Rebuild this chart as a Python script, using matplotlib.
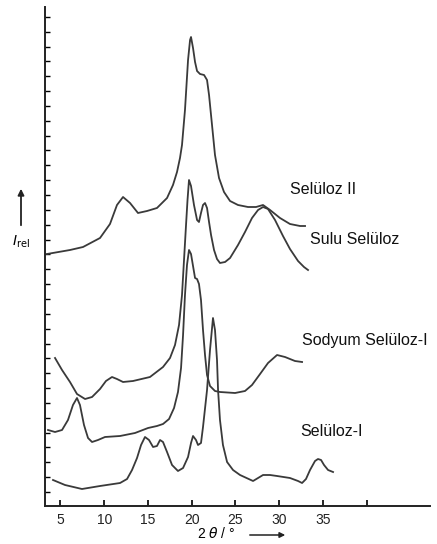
import numpy as np
import matplotlib
matplotlib.use('Agg')
import matplotlib.pyplot as plt

plt.rcParams['font.family'] = ['Liberation Sans', 'DejaVu Sans']

# 2theta (degrees) and relative intensity for each pattern
sel2_x = [3.46, 6.09, 7.58, 9.52, 10.66, 11.46, 12.15, 12.95, 13.86, 14.89, 16.03, 17.18,
          17.86, 18.32, 18.66, 18.89, 19.23, 19.58, 19.81, 19.92, 20.15, 20.38, 20.61, 20.95,
          21.41, 21.75, 21.98, 22.32, 22.66, 23.12, 23.69, 24.38, 25.29, 26.43, 27.35, 28.15,
          28.95, 30.09, 31.23, 32.38, 32.95]
sel2_y = [25.2, 25.6, 25.9, 26.8, 28.2, 30.1, 30.9, 30.3, 29.3, 29.5, 29.8, 30.8,
          32.1, 33.4, 34.8, 36.1, 39.6, 44.6, 46.6, 46.9, 45.8, 44.4, 43.5, 43.2,
          43.1, 42.6, 41.1, 38.1, 35.1, 32.8, 31.4, 30.5, 30.1, 29.9, 29.9, 30.1,
          29.6, 28.8, 28.2, 28.0, 28.0]

sulu_x = [4.38, 5.18, 6.09, 6.89, 7.81, 8.61, 9.52, 10.20, 10.89, 11.46, 12.15, 13.29,
          15.23, 16.72, 17.52, 18.09, 18.55, 18.89, 19.12, 19.35, 19.52, 19.69, 19.92, 20.26,
          20.61, 20.83, 21.06, 21.29, 21.52, 21.75, 21.98, 22.21, 22.55, 22.89, 23.23, 23.81,
          24.38, 25.29, 26.09, 26.89, 27.58, 28.15, 28.72, 29.52, 30.43, 31.23, 32.15, 32.83,
          33.29]
sulu_y = [14.8, 13.6, 12.4, 11.2, 10.7, 10.9, 11.7, 12.5, 12.9, 12.7, 12.4, 12.5,
          12.9, 13.9, 14.8, 16.1, 18.1, 21.1, 24.6, 28.1, 30.6, 32.6, 32.0, 30.1,
          28.6, 28.4, 29.3, 30.1, 30.3, 29.8, 28.4, 27.1, 25.6, 24.7, 24.3, 24.4,
          24.8, 26.1, 27.4, 28.8, 29.6, 29.9, 29.7, 28.6, 27.0, 25.7, 24.5, 23.9,
          23.6]

sod_x = [3.58, 4.38, 5.18, 5.86, 6.43, 6.89, 7.23, 7.69, 8.15, 8.61, 9.29, 10.09,
         11.81, 13.52, 15.01, 16.03, 16.72, 17.41, 17.98, 18.43, 18.78, 19.01, 19.23, 19.46,
         19.69, 19.92, 20.15, 20.38, 20.61, 20.83, 21.06, 21.29, 21.52, 21.75, 22.09, 22.66,
         23.23, 24.95, 26.09, 26.89, 27.81, 28.72, 29.75, 30.66, 31.80, 32.61]
sod_y = [7.6, 7.4, 7.6, 8.6, 10.1, 10.8, 10.1, 8.1, 6.8, 6.4, 6.6, 6.9,
         7.0, 7.3, 7.8, 8.0, 8.2, 8.7, 9.8, 11.4, 13.8, 17.1, 21.1, 24.1,
         25.6, 25.2, 24.0, 22.8, 22.7, 22.2, 20.6, 17.6, 15.1, 13.1, 12.0, 11.5,
         11.4, 11.3, 11.5, 12.1, 13.2, 14.3, 15.1, 14.9, 14.5, 14.4]

sel1_x = [4.15, 5.52, 7.46, 9.52, 11.81, 12.61, 13.18, 13.75, 14.21, 14.66, 15.12, 15.58,
          16.03, 16.38, 16.72, 17.18, 17.75, 18.43, 19.01, 19.58, 19.92, 20.15, 20.49, 20.72,
          21.06, 21.29, 21.75, 22.09, 22.43, 22.66, 22.89, 23.01, 23.23, 23.57, 24.04, 24.72,
          25.52, 27.01, 27.58, 28.15, 28.95, 29.75, 31.23, 32.15, 32.61, 33.06, 33.52, 34.09,
          34.43, 34.78, 35.12, 35.58, 36.15]
sel1_y = [2.6, 2.1, 1.7, 2.0, 2.3, 2.7, 3.6, 4.8, 6.1, 6.9, 6.6, 5.9,
          6.0, 6.6, 6.4, 5.4, 4.1, 3.5, 3.8, 4.9, 6.3, 7.0, 6.6, 6.1,
          6.3, 7.9, 11.6, 15.6, 18.8, 17.6, 14.6, 11.6, 8.6, 6.1, 4.4, 3.6,
          3.1, 2.5, 2.8, 3.1, 3.1, 3.0, 2.8, 2.5, 2.3, 2.7, 3.6, 4.5,
          4.7, 4.6, 4.1, 3.6, 3.4]

labels = ['Selüloz II', 'Sulu Selüloz', 'Sodyum Selüloz-I', 'Selüloz-I']
xticks = [5, 10, 15, 20, 25, 30, 35, 40]
xticklabels = ['5', '10', '15', '20', '25', '30', '35', '']

W, H = 437, 544
fig = plt.figure(figsize=(W / 100, H / 100), dpi=100)
ax = fig.add_axes([45 / W, 38 / H, 385 / W, 499 / H])

line_kw = dict(color='#3a3a3a', lw=1.3, solid_joinstyle='round')
for xs, ys in [(sel2_x, sel2_y), (sulu_x, sulu_y), (sod_x, sod_y), (sel1_x, sel1_y)]:
    ax.plot(xs, ys, **line_kw)

ax.set_xlim(3.234, 47.23)
ax.set_ylim(0, 49.9)
for s in ['top', 'right']:
    ax.spines[s].set_visible(False)
for s in ['left', 'bottom']:
    ax.spines[s].set_linewidth(1.4)
    ax.spines[s].set_color('#222222')

ax.set_xticks(xticks)
ax.set_xticklabels(xticklabels, fontsize=10, color='#222222')
ax.tick_params(axis='x', direction='in', length=4, width=1.2, pad=5)
ax.set_yticks(np.arange(1.4, 49.5, 1.485))
ax.set_yticklabels([])
ax.tick_params(axis='y', direction='in', length=3.5, width=1.0)

# curve labels (figure pixel positions)
label_pos = [(290, 189), (310, 240), (302, 341), (300, 432)]
for lab, (px, py) in zip(labels, label_pos):
    fig.text(px / W, 1 - py / H, lab, fontsize=11.5, ha='left', va='center', color='#111111')

# y axis label with arrow
fig.text(21 / W, 1 - 242 / H, r'$I_{\rm rel}$', fontsize=10, ha='center', va='center')
ax.annotate('', xy=(21 / W, 1 - 186 / H), xytext=(21 / W, 1 - 228 / H),
            xycoords='figure fraction', textcoords='figure fraction',
            arrowprops=dict(arrowstyle='-|>', lw=1.3, color='#222222', mutation_scale=9))

# x axis label with arrow
fig.text(216 / W, 1 - 534 / H, r'2 $\theta$ / °', fontsize=10, ha='center', va='center')
ax.annotate('', xy=(288 / W, 1 - 535 / H), xytext=(247 / W, 1 - 535 / H),
            xycoords='figure fraction', textcoords='figure fraction',
            arrowprops=dict(arrowstyle='-|>', lw=1.1, color='#222222', mutation_scale=8))

fig.savefig('out.png', dpi=100)
